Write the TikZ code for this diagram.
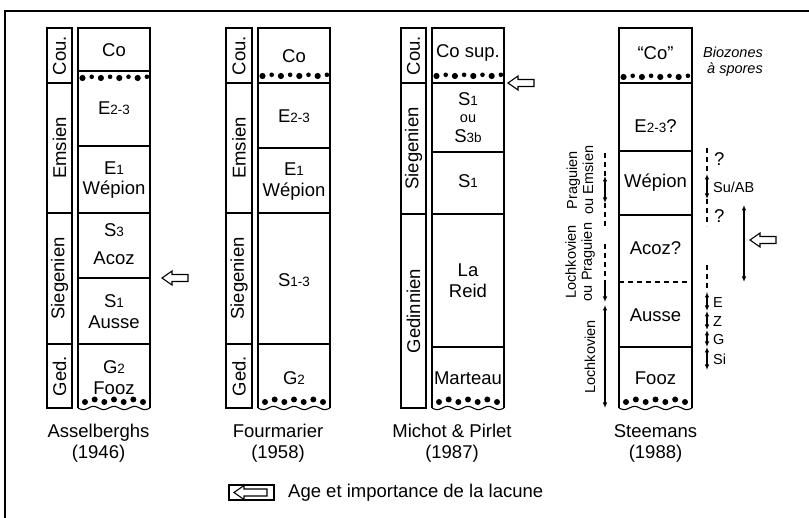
\documentclass[tikz,border=0pt]{standalone}
\usepackage{fontspec}
\setmainfont{Liberation Sans}
\usetikzlibrary{arrows.meta}
\newcommand\fa{\fontsize{18.5}{21}\selectfont}
\newcommand\fb{\fontsize{14.5}{16}\selectfont}
\newcommand\sm[1]{{\fontsize{13.5}{14}\selectfont #1}}
\newcommand\topdots[2]{%
  \foreach \i in {0,...,7}{%
    \pgfmathsetmacro\xx{#1+4.5+\i*9.2}%
    \ifodd\i \fill (\xx,#2-1.2) circle (2.3pt); \else \fill (\xx,#2) circle (3.1pt); \fi
  }}
\newcommand\basewave[3]{%
  \draw[box] plot[domain=#1:#2, samples=60, smooth] (\x, {#3+1.6*sin((\x-#1)/(#2-#1)*1260)});
  \foreach \i in {0,...,6}{%
    \pgfmathsetmacro\xx{#1+7+\i*(#2-#1-14)/6}%
    \ifodd\i \fill (\xx,#3-8.5) circle (3pt); \else \fill (\xx,#3-6) circle (3pt); \fi
  }}
\tikzset{
  lbl/.style={font=\fa, inner sep=0pt, anchor=base},
  stage/.style={font=\fa, inner sep=0pt, rotate=90, anchor=center},
  small/.style={font=\fb, inner sep=0pt, anchor=base},
  smallrot/.style={font=\fb, inner sep=0pt, rotate=90, align=center, anchor=center},
  box/.style={line width=1.1pt},
  dashln/.style={line width=1.1pt, dash pattern=on 5pt off 4pt},
  dbl/.style={line width=1.1pt, {Latex[length=5.5pt,width=4.5pt]}-{Latex[length=5.5pt,width=4.5pt]}},
  arr/.style={line width=1.1pt, -{Latex[length=5.5pt,width=4.5pt]}},
  pics/lac/.style={code={\draw[line width=1.1pt, fill=white] (0,0) -- (10,-7) -- (10,-3.5) -- (#1,-3.5) -- (#1,3.5) -- (10,3.5) -- (10,7) -- cycle;}},
  pics/lac/.default=26
}
\begin{document}
\begin{tikzpicture}[x=1pt,y=-1pt]
\useasboundingbox (0,0) rectangle (809,518);
% frame
\draw[line width=2pt] (5,518) -- (5,11) -- (809,11);

% ---------------- Asselberghs
\draw[box] (47,28) rectangle (72,408);
\draw[box] (47,83) -- (72,83) (47,213) -- (72,213) (47,344) -- (72,344);
\draw[box] (78,408) -- (78,28) -- (150,28) -- (150,408);
\draw[box] (78,71) -- (150,71) (78,146) -- (150,146) (78,213) -- (150,213) (78,278) -- (150,278) (78,344) -- (150,344);
\topdots{78}{78}
\basewave{78}{150}{408}
\node[stage] (a-cou) at (59.5,55.5) {Cou.};
\node[stage] (a-ems) at (59.5,148) {Emsien};
\node[stage] (a-sie) at (59.5,278.5) {Siegenien};
\node[stage] (a-ged) at (59.5,376) {Ged.};
\node[lbl] (a-co) at (114,57) {Co};
\node[lbl] (a-e23) at (114,115) {E\sm{2-3}};
\node[lbl] (a-e1) at (114,175) {E\sm{1}};
\node[lbl] (a-wep) at (114,195) {Wépion};
\node[lbl] (a-s3) at (114,237) {S\sm{3}};
\node[lbl] (a-acoz) at (114,265) {Acoz};
\node[lbl] (a-s1) at (114,308) {S\sm{1}};
\node[lbl] (a-ausse) at (114,329) {Ausse};
\node[lbl] (a-g2) at (114,374) {G\sm{2}};
\node[lbl] (a-fooz) at (114,395) {Fooz};
\pic at (162,278) {lac};
\node[lbl] (a-name) at (98.5,438) {Asselberghs};
\node[lbl] (a-year) at (98.5,459) {(1946)};

% ---------------- Fourmarier
\draw[box] (226,28) rectangle (252,408);
\draw[box] (226,83) -- (252,83) (226,213) -- (252,213) (226,344) -- (252,344);
\draw[box] (258,408) -- (258,28) -- (330,28) -- (330,408);
\draw[box] (258,83) -- (330,83) (258,148) -- (330,148) (258,213) -- (330,213) (258,344) -- (330,344);
\topdots{258}{76}
\basewave{258}{330}{408}
\node[stage] (f-cou) at (239,55.5) {Cou.};
\node[stage] (f-ems) at (239,148) {Emsien};
\node[stage] (f-sie) at (239,278.5) {Siegenien};
\node[stage] (f-ged) at (239,376) {Ged.};
\node[lbl] (f-co) at (294,63) {Co};
\node[lbl] (f-e23) at (294,123) {E\sm{2-3}};
\node[lbl] (f-e1) at (294,176) {E\sm{1}};
\node[lbl] (f-wep) at (294,197) {Wépion};
\node[lbl] (f-s13) at (294,287) {S\sm{1-3}};
\node[lbl] (f-g2) at (294,385) {G\sm{2}};
\node[lbl] (f-name) at (278,438) {Fourmarier};
\node[lbl] (f-year) at (278,459) {(1958)};

% ---------------- Michot & Pirlet
\draw[box] (401,28) rectangle (426,408);
\draw[box] (401,83) -- (426,83) (401,214) -- (426,214);
\draw[box] (432,408) -- (432,28) -- (504,28) -- (504,408);
\draw[box] (432,83) -- (504,83) (432,152) -- (504,152) (432,214) -- (504,214) (432,347) -- (504,347);
\topdots{432}{76}
\basewave{432}{504}{408}
\node[stage] (m-cou) at (413.5,55.5) {Cou.};
\node[stage] (m-sie) at (413.5,148.5) {Siegenien};
\node[stage] (m-ged) at (413.5,311) {Gedinnien};
\node[lbl] (m-co) at (468,58) {Co sup.};
\node[lbl] (m-s1a) at (468,106) {S\sm{1}};
\node[small] (m-ou) at (468,123) {ou};
\node[lbl] (m-s3b) at (468,143) {S\sm{3b}};
\node[lbl] (m-s1b) at (468,188) {S\sm{1}};
\node[lbl] (m-la) at (468,277) {La};
\node[lbl] (m-reid) at (468,298) {Reid};
\node[lbl] (m-mar) at (468,385) {Marteau};
\pic at (508,83) {lac};
\node[lbl] (m-name) at (452,438) {Michot \& Pirlet};
\node[lbl] (m-year) at (452,459) {(1987)};

% ---------------- Steemans
\draw[box] (619,408) -- (619,28) -- (692,28) -- (692,408);
\draw[box] (619,83) -- (692,83) (619,151) -- (692,151) (619,215) -- (692,215) (619,347) -- (692,347);
\draw[dashln] (619,282) -- (692,282);
\topdots{619}{77}
\basewave{619}{692}{408}
\node[lbl] (s-co) at (655.5,60) {“Co”};
\node[lbl] (s-e23) at (655.5,133) {E\sm{2-3}?};
\node[lbl] (s-wep) at (655.5,188) {Wépion};
\node[lbl] (s-acoz) at (655.5,255) {Acoz?};
\node[lbl] (s-ausse) at (655.5,322) {Ausse};
\node[lbl] (s-fooz) at (655.5,385) {Fooz};
\node[lbl] (s-name) at (655.5,438) {Steemans};
\node[lbl] (s-year) at (655.5,459) {(1988)};

\node[font=\fb\itshape, inner sep=0pt, anchor=base west] (bio1) at (703,58) {Biozones};
\node[font=\fb\itshape, inner sep=0pt, anchor=base west] (bio2) at (707,74) {à spores};

% left ages
\coordinate (L1) at (605,153); \coordinate (L2) at (605,176); \coordinate (L3) at (605,203); \coordinate (L4) at (605,228);
\coordinate (L5) at (605,244); \coordinate (L6) at (605,281); \coordinate (L7) at (605,302);
\coordinate (L8) at (605,305); \coordinate (L9) at (605,408);
\draw[dashln] (L1) -- (L2);
\draw[dbl] (L2) -- (L3);
\draw[dashln] (L3) -- (L4);
\draw[dashln] (L5) -- (L6);
\draw[arr] (L6) -- (L7);
\draw[dbl] (L8) -- (L9);
\node[smallrot] (age1) at (580,180) {Praguien\\ou Emsien};
\node[smallrot] (age2) at (580,262) {Lochkovien\\ou Praguien};
\node[smallrot] (age3) at (590,357) {Lochkovien};

% right biozones
\coordinate (R1) at (707,148); \coordinate (R2) at (707,174); \coordinate (R3) at (707,199); \coordinate (R4) at (707,226);
\coordinate (R5) at (707,265); \coordinate (R6) at (707,292); \coordinate (R7) at (707,311); \coordinate (R8) at (707,330);
\coordinate (R9) at (707,347); \coordinate (R10) at (707,370);
\draw[dashln] (R1) -- (R2);
\draw[dbl] (R2) -- (R3);
\draw[dashln] (R3) -- (R4);
\draw[dashln] (R5) -- (R6);
\draw[dbl] (R6) -- (R7);
\draw[dbl] (R7) -- (R8);
\draw[dbl] (R8) -- (R9);
\draw[dbl] (R9) -- (R10);
\node[font=\fa, inner sep=0pt, anchor=base west] (q1) at (714,166) {?};
\node[font=\fa, inner sep=0pt, anchor=base west] (q2) at (714,223) {?};
\node[font=\fb, inner sep=0pt, anchor=base west] (suab) at (713,193) {Su/AB};
\node[font=\fb, inner sep=0pt, anchor=base west] (bE) at (713,308) {E};
\node[font=\fb, inner sep=0pt, anchor=base west] (bZ) at (713,327) {Z};
\node[font=\fb, inner sep=0pt, anchor=base west] (bG) at (713,345) {G};
\node[font=\fb, inner sep=0pt, anchor=base west] (bSi) at (713,365) {Si};

\coordinate (B1) at (744,205); \coordinate (B2) at (744,282);
\draw[dbl] (B1) -- (B2);
\pic at (750,240) {lac};

% legend
\draw[box] (229,485) rectangle (274,500);
\pic at (234,492.5) {lac=33};
\node[font=\fa, inner sep=0pt, anchor=base west] (leg) at (288,497) {Age et importance de la lacune};
\end{tikzpicture}
\end{document}
